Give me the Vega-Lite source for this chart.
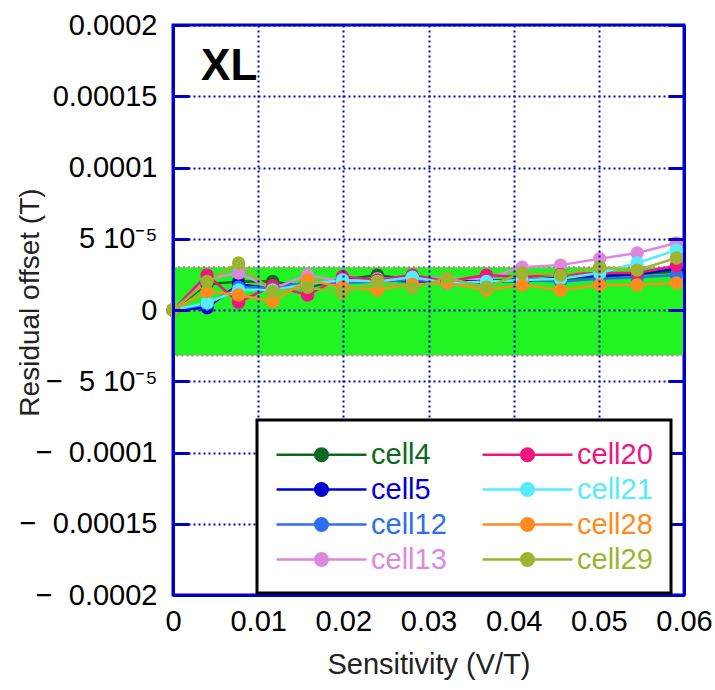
{
  "$schema": "https://vega.github.io/schema/vega-lite/v6.json",
  "width": 511,
  "height": 570,
  "autosize": "none",
  "padding": {"left": 173, "top": 25, "right": 31, "bottom": 95},
  "background": "white",
  "config": {
    "font": "Liberation Sans",
    "view": {"stroke": "#0000cc", "strokeWidth": 3},
    "axis": {
      "domainColor": "#0000cc", "domainWidth": 3,
      "tickColor": "#0000cc", "tickWidth": 3,
      "gridColor": "#0000cc", "gridWidth": 2, "gridDash": [2, 3], "gridOpacity": 1,
      "labelColor": "black", "labelFontSize": 29,
      "titleFontSize": 29, "titleFontWeight": "normal", "titleColor": "#222222"
    }
  },
  "datasets": {
    "band": [{"lo": -3.2e-5, "hi": 3e-5}],
    "pts": [
      {"c": "cell4", "s": 0, "r": 0}, {"c": "cell4", "s": 0.004, "r": 1.8e-5}, {"c": "cell4", "s": 0.0077, "r": 2.0e-5}, {"c": "cell4", "s": 0.0117, "r": 2.0e-5}, {"c": "cell4", "s": 0.0158, "r": 1.6e-5}, {"c": "cell4", "s": 0.0199, "r": 2.1e-5}, {"c": "cell4", "s": 0.024, "r": 2.45e-5}, {"c": "cell4", "s": 0.0281, "r": 2.1e-5}, {"c": "cell4", "s": 0.0322, "r": 2.0e-5}, {"c": "cell4", "s": 0.0368, "r": 2.0e-5}, {"c": "cell4", "s": 0.041, "r": 2.2e-5}, {"c": "cell4", "s": 0.0455, "r": 2.1e-5}, {"c": "cell4", "s": 0.0501, "r": 2.3e-5}, {"c": "cell4", "s": 0.0545, "r": 2.5e-5}, {"c": "cell4", "s": 0.0591, "r": 2.7e-5},
      {"c": "cell5", "s": 0, "r": 0}, {"c": "cell5", "s": 0.004, "r": 0.15e-5}, {"c": "cell5", "s": 0.0077, "r": 1.8e-5}, {"c": "cell5", "s": 0.0117, "r": 1.5e-5}, {"c": "cell5", "s": 0.0158, "r": 1.8e-5}, {"c": "cell5", "s": 0.0199, "r": 2.0e-5}, {"c": "cell5", "s": 0.024, "r": 2.1e-5}, {"c": "cell5", "s": 0.0281, "r": 2.0e-5}, {"c": "cell5", "s": 0.0322, "r": 1.9e-5}, {"c": "cell5", "s": 0.0368, "r": 2.1e-5}, {"c": "cell5", "s": 0.041, "r": 2.0e-5}, {"c": "cell5", "s": 0.0455, "r": 2.3e-5}, {"c": "cell5", "s": 0.0501, "r": 2.4e-5}, {"c": "cell5", "s": 0.0545, "r": 2.5e-5}, {"c": "cell5", "s": 0.0591, "r": 2.9e-5},
      {"c": "cell12", "s": 0, "r": 0}, {"c": "cell12", "s": 0.004, "r": 0.4e-5}, {"c": "cell12", "s": 0.0077, "r": 1.6e-5}, {"c": "cell12", "s": 0.0117, "r": 1.6e-5}, {"c": "cell12", "s": 0.0158, "r": 1.9e-5}, {"c": "cell12", "s": 0.0199, "r": 1.9e-5}, {"c": "cell12", "s": 0.024, "r": 2.0e-5}, {"c": "cell12", "s": 0.0281, "r": 2.1e-5}, {"c": "cell12", "s": 0.0322, "r": 2.0e-5}, {"c": "cell12", "s": 0.0368, "r": 1.9e-5}, {"c": "cell12", "s": 0.041, "r": 2.1e-5}, {"c": "cell12", "s": 0.0455, "r": 2.0e-5}, {"c": "cell12", "s": 0.0501, "r": 2.2e-5}, {"c": "cell12", "s": 0.0545, "r": 2.3e-5}, {"c": "cell12", "s": 0.0591, "r": 2.45e-5},
      {"c": "cell13", "s": 0, "r": 0}, {"c": "cell13", "s": 0.004, "r": 2.2e-5}, {"c": "cell13", "s": 0.0077, "r": 2.6e-5}, {"c": "cell13", "s": 0.0117, "r": 1.5e-5}, {"c": "cell13", "s": 0.0158, "r": 2.45e-5}, {"c": "cell13", "s": 0.0199, "r": 2.0e-5}, {"c": "cell13", "s": 0.024, "r": 2.2e-5}, {"c": "cell13", "s": 0.0281, "r": 2.3e-5}, {"c": "cell13", "s": 0.0322, "r": 2.2e-5}, {"c": "cell13", "s": 0.0368, "r": 2.2e-5}, {"c": "cell13", "s": 0.041, "r": 3.0e-5}, {"c": "cell13", "s": 0.0455, "r": 3.15e-5}, {"c": "cell13", "s": 0.0501, "r": 3.6e-5}, {"c": "cell13", "s": 0.0545, "r": 4.0e-5}, {"c": "cell13", "s": 0.0591, "r": 4.7e-5},
      {"c": "cell20", "s": 0, "r": 0}, {"c": "cell20", "s": 0.004, "r": 2.45e-5}, {"c": "cell20", "s": 0.0077, "r": 0.55e-5}, {"c": "cell20", "s": 0.0117, "r": 1.7e-5}, {"c": "cell20", "s": 0.0158, "r": 1.05e-5}, {"c": "cell20", "s": 0.0199, "r": 2.35e-5}, {"c": "cell20", "s": 0.024, "r": 2.1e-5}, {"c": "cell20", "s": 0.0281, "r": 2.45e-5}, {"c": "cell20", "s": 0.0322, "r": 2.0e-5}, {"c": "cell20", "s": 0.0368, "r": 2.45e-5}, {"c": "cell20", "s": 0.041, "r": 2.3e-5}, {"c": "cell20", "s": 0.0455, "r": 2.5e-5}, {"c": "cell20", "s": 0.0501, "r": 2.6e-5}, {"c": "cell20", "s": 0.0545, "r": 2.6e-5}, {"c": "cell20", "s": 0.0591, "r": 3.1e-5},
      {"c": "cell21", "s": 0, "r": 0}, {"c": "cell21", "s": 0.004, "r": 0.5e-5}, {"c": "cell21", "s": 0.0077, "r": 1.4e-5}, {"c": "cell21", "s": 0.0117, "r": 1.4e-5}, {"c": "cell21", "s": 0.0158, "r": 1.8e-5}, {"c": "cell21", "s": 0.0199, "r": 2.1e-5}, {"c": "cell21", "s": 0.024, "r": 2.0e-5}, {"c": "cell21", "s": 0.0281, "r": 2.3e-5}, {"c": "cell21", "s": 0.0322, "r": 1.9e-5}, {"c": "cell21", "s": 0.0368, "r": 2.0e-5}, {"c": "cell21", "s": 0.041, "r": 2.1e-5}, {"c": "cell21", "s": 0.0455, "r": 2.2e-5}, {"c": "cell21", "s": 0.0501, "r": 2.6e-5}, {"c": "cell21", "s": 0.0545, "r": 3.3e-5}, {"c": "cell21", "s": 0.0591, "r": 4.2e-5},
      {"c": "cell28", "s": 0, "r": 0}, {"c": "cell28", "s": 0.004, "r": 1.3e-5}, {"c": "cell28", "s": 0.0077, "r": 1.05e-5}, {"c": "cell28", "s": 0.0117, "r": 0.6e-5}, {"c": "cell28", "s": 0.0158, "r": 2.1e-5}, {"c": "cell28", "s": 0.0199, "r": 1.6e-5}, {"c": "cell28", "s": 0.024, "r": 1.4e-5}, {"c": "cell28", "s": 0.0281, "r": 1.8e-5}, {"c": "cell28", "s": 0.0322, "r": 1.9e-5}, {"c": "cell28", "s": 0.0368, "r": 1.4e-5}, {"c": "cell28", "s": 0.041, "r": 1.75e-5}, {"c": "cell28", "s": 0.0455, "r": 1.4e-5}, {"c": "cell28", "s": 0.0501, "r": 1.75e-5}, {"c": "cell28", "s": 0.0545, "r": 1.75e-5}, {"c": "cell28", "s": 0.0591, "r": 1.9e-5},
      {"c": "cell29", "s": 0, "r": 0}, {"c": "cell29", "s": 0.004, "r": 2.0e-5}, {"c": "cell29", "s": 0.0077, "r": 3.3e-5}, {"c": "cell29", "s": 0.0117, "r": 1.3e-5}, {"c": "cell29", "s": 0.0158, "r": 1.6e-5}, {"c": "cell29", "s": 0.0199, "r": 1.2e-5}, {"c": "cell29", "s": 0.024, "r": 2.0e-5}, {"c": "cell29", "s": 0.0281, "r": 1.55e-5}, {"c": "cell29", "s": 0.0322, "r": 2.25e-5}, {"c": "cell29", "s": 0.0368, "r": 1.6e-5}, {"c": "cell29", "s": 0.041, "r": 2.6e-5}, {"c": "cell29", "s": 0.0455, "r": 2.45e-5}, {"c": "cell29", "s": 0.0501, "r": 3.0e-5}, {"c": "cell29", "s": 0.0545, "r": 2.8e-5}, {"c": "cell29", "s": 0.0591, "r": 3.65e-5}
    ]
  },
  "layer": [
    {
      "data": {"name": "band"},
      "mark": {"type": "rect", "color": "#22f322", "stroke": "#d46aa0", "strokeDash": [2, 3], "strokeWidth": 2},
      "encoding": {
        "x": {"datum": 0, "type": "quantitative", "scale": {"domain": [0, 0.06], "nice": false, "zero": false}, "axis": null},
        "x2": {"datum": 0.06},
        "y": {"field": "hi", "type": "quantitative", "scale": {"domain": [-0.0002, 0.0002], "nice": false},
          "axis": {"orient": "right", "labels": false, "title": null, "grid": false, "ticks": true, "tickSize": -16,
            "values": [-0.0002, -0.00015, -0.0001, -0.00005, 0, 0.00005, 0.0001, 0.00015, 0.0002], "domain": true, "zindex": 1}},
        "y2": {"field": "lo"}
      }
    },
    {
      "data": {"name": "pts"},
      "mark": {"type": "line", "strokeWidth": 2.5, "point": {"filled": true, "size": 180, "opacity": 1}},
      "encoding": {
        "x": {"field": "s", "type": "quantitative", "scale": {"domain": [0, 0.06], "nice": false, "zero": false},
          "axis": {"orient": "bottom", "values": [0, 0.01, 0.02, 0.03, 0.04, 0.05, 0.06],
            "labelExpr": "datum.value == 0 ? '0' : format(datum.value, '.2f')",
            "ticks": false, "labelPadding": 12, "labelFlush": false, "grid": true,
            "title": "Sensitivity (V/T)", "titleY": 78, "titleBaseline": "alphabetic", "zindex": 1}},
        "y": {"field": "r", "type": "quantitative", "scale": {"domain": [-0.0002, 0.0002], "nice": false},
          "axis": {"orient": "left", "values": [-0.0002, -0.00015, -0.0001, -0.00005, 0, 0.00005, 0.0001, 0.00015, 0.0002],
            "labelExpr": "abs(datum.value) < 1e-12 ? '0' : abs(datum.value - 5e-5) < 1e-12 ? '5 10⁻⁵' : abs(datum.value + 5e-5) < 1e-12 ? '−\u00a0\u00a05 10⁻⁵' : (datum.value < 0 ? '−\u00a0\u00a0' : '') + format(abs(datum.value), '~r')",
            "tickSize": -16, "labelPadding": 32, "labelFlush": false, "grid": true,
            "title": "Residual offset (T)", "titleFontSize": 28, "titleX": -135, "titleY": 277, "titleAngle": -90, "titleAlign": "center", "titleBaseline": "alphabetic", "zindex": 1}},
        "color": {"field": "c", "type": "nominal",
          "scale": {"domain": ["cell4", "cell5", "cell12", "cell13", "cell20", "cell21", "cell28", "cell29"],
            "range": ["#0b6a22", "#0000d4", "#2e6ff0", "#dd88dd", "#f0157f", "#55ecff", "#ff8b1e", "#9cb52c"]},
          "legend": {"orient": "none", "legendX": 84, "legendY": 395, "columns": 2, "title": null,
            "symbolType": "M-1,0H5M1.58,0A0.42,0.42,0,1,1,2.42,0A0.42,0.42,0,1,1,1.58,0Z",
            "symbolSize": 900, "symbolStrokeWidth": 2.5, "labelFontSize": 29, "labelOffset": 63, "labelLimit": 200,
            "columnPadding": 30, "rowPadding": 3, "padding": 18, "strokeColor": "black", "fillColor": "white", "zindex": 2,
            "encode": {
              "symbols": {"update": {"fill": {"scale": "color", "field": "value"}, "stroke": {"scale": "color", "field": "value"}, "opacity": {"value": 1}}},
              "labels": {"update": {"fill": {"scale": "color", "field": "value"}}},
              "legend": {"update": {"strokeWidth": {"value": 3}}}
            }}}
      }
    },
    {
      "data": {"values": [{}]},
      "mark": {"type": "text", "text": "XL", "fontSize": 44, "fontWeight": "bold", "color": "black", "align": "center", "baseline": "middle"},
      "encoding": {
        "x": {"datum": 0.0066, "type": "quantitative", "axis": null},
        "y": {"datum": 0.0001705, "type": "quantitative", "axis": null}
      }
    }
  ],
  "resolve": {"axis": {"y": "independent", "x": "independent"}}
}
